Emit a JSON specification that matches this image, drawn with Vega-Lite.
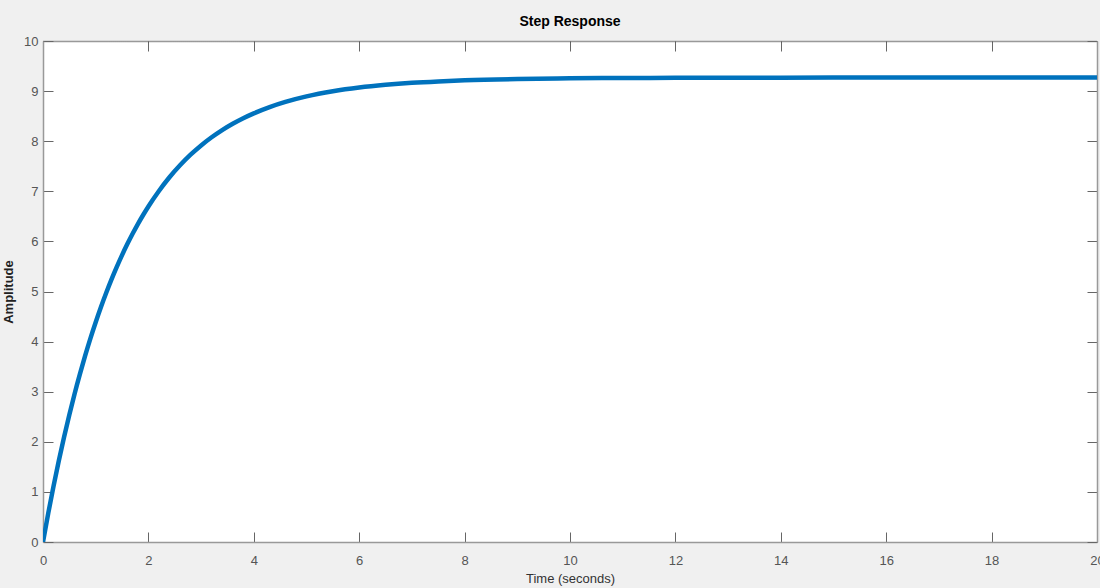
{
  "$schema": "https://vega.github.io/schema/vega-lite/v6.json",
  "autosize": {"type": "none"},
  "width": 1054,
  "height": 501,
  "padding": {"left": 43, "top": 41, "right": 3, "bottom": 46},
  "background": "#f0f0f0",
  "config": {
    "view": {"fill": "white", "stroke": null},
    "font": "Liberation Sans"
  },
  "title": {"text": "Step Response", "fontSize": 14, "fontWeight": "bold", "font": "Liberation Sans", "color": "#000000", "offset": 6, "anchor": "middle"},
  "data": {"values": [
    {"t": 0, "y": 0},
    {"t": 0.1, "y": 0.576},
    {"t": 0.2, "y": 1.115},
    {"t": 0.3, "y": 1.621},
    {"t": 0.4, "y": 2.097},
    {"t": 0.5, "y": 2.54},
    {"t": 0.6, "y": 2.96},
    {"t": 0.7, "y": 3.351},
    {"t": 0.8, "y": 3.719},
    {"t": 0.9, "y": 4.064},
    {"t": 1.0, "y": 4.386},
    {"t": 1.1, "y": 4.69},
    {"t": 1.2, "y": 4.974},
    {"t": 1.3, "y": 5.241},
    {"t": 1.4, "y": 5.491},
    {"t": 1.5, "y": 5.726},
    {"t": 1.6, "y": 5.946},
    {"t": 1.7, "y": 6.152},
    {"t": 1.8, "y": 6.346},
    {"t": 1.9, "y": 6.527},
    {"t": 2.0, "y": 6.698},
    {"t": 2.2, "y": 7.007},
    {"t": 2.4, "y": 7.28},
    {"t": 2.6, "y": 7.519},
    {"t": 2.8, "y": 7.73},
    {"t": 3.0, "y": 7.915},
    {"t": 3.2, "y": 8.078},
    {"t": 3.4, "y": 8.222},
    {"t": 3.6, "y": 8.348},
    {"t": 3.8, "y": 8.459},
    {"t": 4.0, "y": 8.556},
    {"t": 4.3, "y": 8.681},
    {"t": 4.6, "y": 8.784},
    {"t": 5.0, "y": 8.894},
    {"t": 5.5, "y": 8.997},
    {"t": 6.0, "y": 9.072},
    {"t": 6.5, "y": 9.126},
    {"t": 7.0, "y": 9.166},
    {"t": 7.5, "y": 9.194},
    {"t": 8.0, "y": 9.215},
    {"t": 9.0, "y": 9.241},
    {"t": 10.0, "y": 9.255},
    {"t": 11.0, "y": 9.262},
    {"t": 12.0, "y": 9.265},
    {"t": 14.0, "y": 9.268},
    {"t": 16.0, "y": 9.27},
    {"t": 18.0, "y": 9.27},
    {"t": 20.0, "y": 9.27}
  ]},
  "layer": [
    {
      "mark": {"type": "line", "color": "#0072bd", "strokeWidth": 4.5, "clip": true, "interpolate": "monotone"},
      "encoding": {
        "x": {"field": "t", "type": "quantitative", "scale": {"domain": [0, 20], "nice": false},
          "axis": {"orient": "bottom", "title": "Time (seconds)", "values": [0,2,4,6,8,10,12,14,16,18,20], "grid": false,
            "tickSize": -10, "tickColor": "#666666", "domainColor": "#999999", "domainWidth": 1.5,
            "labelColor": "#555555", "labelFontSize": 13, "labelPadding": 22, "labelFont": "Liberation Sans",
            "titleFont": "Liberation Sans", "titleFontSize": 13, "titleFontWeight": "normal", "titleColor": "#333333", "titlePadding": 5, "labelFlush": false, "labelOverlap": false}},
        "y": {"field": "y", "type": "quantitative", "scale": {"domain": [0, 10], "nice": false},
          "axis": {"orient": "left", "title": "Amplitude", "values": [0,1,2,3,4,5,6,7,8,9,10], "grid": false,
            "tickSize": -10, "tickColor": "#666666", "domainColor": "#999999", "domainWidth": 1.5,
            "labelColor": "#555555", "labelFontSize": 13, "labelPadding": 15, "labelFont": "Liberation Sans",
            "titleFont": "Liberation Sans", "titleFontSize": 13, "titleFontWeight": "bold", "titleColor": "#222222", "titlePadding": 8, "labelFlush": false, "labelOverlap": false}}
      }
    },
    {
      "mark": {"type": "line", "opacity": 0},
      "encoding": {
        "x": {"field": "t", "type": "quantitative", "scale": {"domain": [0, 20], "nice": false},
          "axis": {"orient": "top", "title": null, "labels": false, "values": [0,2,4,6,8,10,12,14,16,18,20], "grid": false,
            "tickSize": -10, "tickColor": "#666666", "domainColor": "#333333", "domainWidth": 1.5, "domainDash": [1, 1]}},
        "y": {"field": "y", "type": "quantitative", "scale": {"domain": [0, 10], "nice": false},
          "axis": {"orient": "right", "title": null, "labels": false, "values": [0,1,2,3,4,5,6,7,8,9,10], "grid": false,
            "tickSize": -10, "tickColor": "#666666", "domainColor": "#999999", "domainWidth": 1.5}}
      }
    }
  ],
  "resolve": {"axis": {"x": "independent", "y": "independent"}}
}
